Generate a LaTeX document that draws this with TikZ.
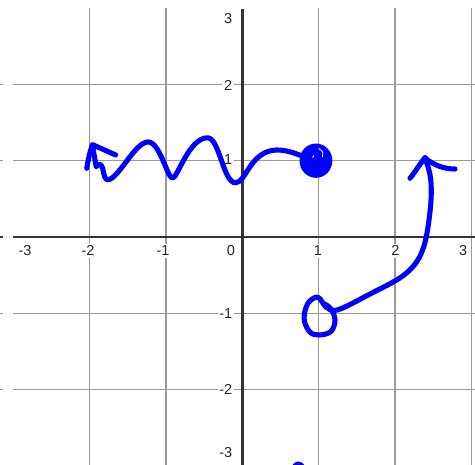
\documentclass[tikz,border=0pt]{standalone}
\usepackage{fontspec}
\setmainfont{Liberation Sans}
\definecolor{penblue}{RGB}{0,0,255}
\begin{document}
\begin{tikzpicture}
% hand-drawn strokes over a coordinate grid
\def\unitsz{1cm}
\providecommand{\gridLineColor}{black!40}
\providecommand{\gridAxisColor}{black!80}
\providecommand{\gridLineWidth}{0.45pt}
\providecommand{\gridAxisWidth}{0.9pt}
\providecommand{\penLineWidth}{1.9pt}
\tikzset{
  ticklabel/.style={font=\fontsize{5.4}{6}\selectfont, text=black!85, fill=white, inner sep=0.6pt},
  pen/.style={draw=penblue, line width=\penLineWidth, line cap=round, line join=round}
}
\begin{scope}[x=\unitsz, y=\unitsz]
  \useasboundingbox (-3.176,-2.988) rectangle (3.050,3.106);
  % Vertical lines
  \begin{scope}[draw=\gridLineColor, line width=\gridLineWidth]
    \draw (-2,-3) -- (-2,3);
    \draw (-1,-3) -- (-1,3);
    \draw (1,-3) -- (1,3);
    \draw (2,-3) -- (2,3);
    \draw (3,-3) -- (3,3);
  \end{scope}
  % Horizontal lines
  \begin{scope}[draw=\gridLineColor, line width=\gridLineWidth]
    \draw (-3,2) -- (3.05,2);
    \draw (-3,1) -- (3.05,1);
    \draw (-3,-1) -- (3.05,-1);
    \draw (-3,-2) -- (3.05,-2);
    \draw (-3.176,2) -- (-3.137,2);
    \draw (-3.176,1) -- (-3.137,1);
    \draw (-3.176,-1) -- (-3.137,-1);
    \draw (-3.176,-2) -- (-3.137,-2);
  \end{scope}
  % Axes
  \begin{scope}[draw=\gridAxisColor, line width=\gridAxisWidth]
    \draw (-3,0) -- (3.05,0);
    \draw (0,-3) -- (0,2.99);
    \draw (-3.176,0) -- (-3.137,0);
  \end{scope}
  % Tick labels
  \node[ticklabel] (xm3) at (-2.848,-0.183) {-3};
  \node[ticklabel] (xm2) at (-2.022,-0.183) {-2};
  \node[ticklabel] (xm1) at (-1.039,-0.183) {-1};
  \node[ticklabel] (x0) at (-0.148,-0.183) {0};
  \node[ticklabel] (x1) at (0.992,-0.183) {1};
  \node[ticklabel] (x2) at (2.005,-0.183) {2};
  \node[ticklabel] (x3) at (2.893,-0.183) {3};
  \node[ticklabel, anchor=east] (y3) at (-0.105,2.857) {3};
  \node[ticklabel, anchor=east] (y2) at (-0.105,1.992) {2};
  \node[ticklabel, anchor=east] (y1) at (-0.105,1.009) {1};
  \node[ticklabel, anchor=east] (ym1) at (-0.105,-1.003) {-1};
  \node[ticklabel, anchor=east] (ym2) at (-0.105,-1.992) {-2};
  \node[ticklabel, anchor=east] (ym3) at (-0.105,-2.831) {-3};
  % Left arrow head
  \draw[pen] (-2.039,0.90) .. controls (-2.02,1.02) and (-1.99,1.14) .. (-1.965,1.21) -- (-1.66,1.075);
  % Wave into the dot
  \draw[pen] (-1.962,1.19) -- (-1.915,0.92)
    .. controls (-1.89,0.96) and (-1.85,0.97) .. (-1.83,0.9)
    .. controls (-1.81,0.80) and (-1.80,0.74) .. (-1.75,0.75)
    .. controls (-1.60,0.80) and (-1.40,1.25) .. (-1.232,1.245)
    .. controls (-1.08,1.24) and (-0.98,0.77) .. (-0.915,0.77)
    .. controls (-0.85,0.77) and (-0.70,1.30) .. (-0.456,1.30)
    .. controls (-0.30,1.30) and (-0.25,0.71) .. (-0.09,0.71)
    .. controls (0.05,0.71) and (0.10,1.13) .. (0.45,1.14)
    .. controls (0.60,1.14) and (0.70,1.09) .. (0.90,1.02);
  % Scribbled dot
  \fill[penblue] (0.965,1.0) ellipse (0.215 and 0.225);
  \draw[white, line width=0.3pt] (1.00,1.16) .. controls (1.06,1.12) .. (1.05,1.05);
  \draw[white, line width=0.3pt] (0.92,1.04) -- (0.94,1.07);
  % Right arrow head
  \draw[pen] (2.198,0.769) .. controls (2.27,0.86) and (2.33,0.96) .. (2.394,1.039)
    .. controls (2.50,0.94) and (2.65,0.89) .. (2.788,0.891);
  % Shaft down to the loop
  \draw[pen] plot[smooth, tension=0.6] coordinates {(2.394,1.039) (2.47,0.75) (2.46,0.33) (2.36,-0.18) (2.13,-0.49) (1.65,-0.76) (1.25,-0.955) (1.10,-0.92) (0.99,-0.79) (0.86,-0.87) (0.81,-1.07) (0.88,-1.24) (1.0,-1.285) (1.16,-1.24) (1.215,-1.09) (1.16,-0.94) (1.06,-0.87)};
  % Stroke cut at the lower edge
  \draw[pen] (0.69,-3.0) .. controls (0.72,-2.97) and (0.75,-2.97) .. (0.78,-3.0);
\end{scope}
\end{tikzpicture}
\end{document}
